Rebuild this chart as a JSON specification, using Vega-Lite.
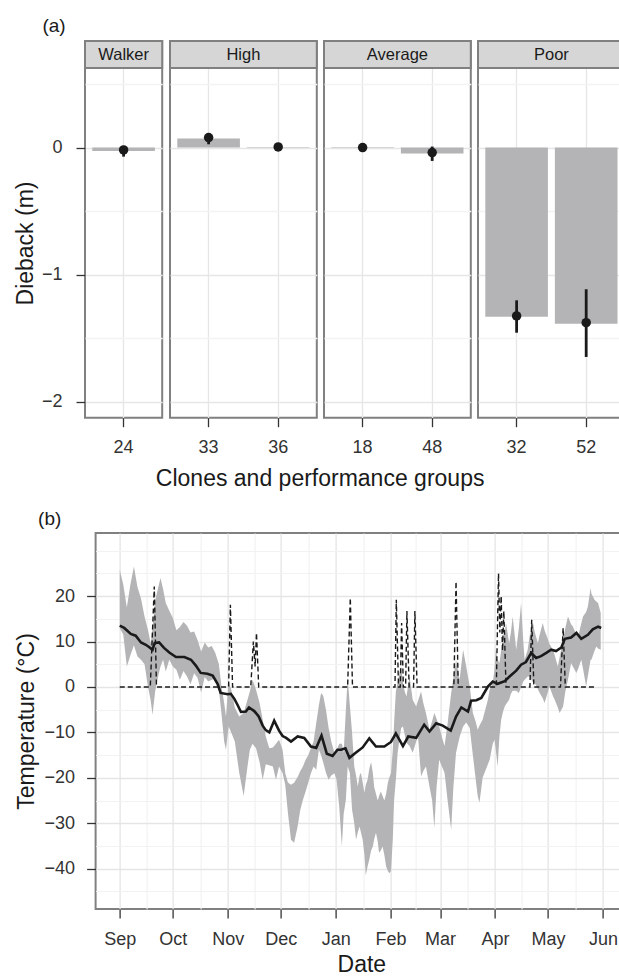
{
  "$schema": "https://vega.github.io/schema/vega-lite/v6.json",
  "background": "white",
  "padding": {"left": 13, "top": 17, "right": 0, "bottom": 4},
  "autosize": {"type": "pad"},
  "config": {
    "font": "Liberation Sans",
    "view": {"stroke": "#808080", "strokeWidth": 2},
    "axis": {"labelFontSize": 18, "labelColor": "#333333", "titleFontSize": 23, "titleFontWeight": "normal", "titleColor": "#1a1a1a", "tickColor": "#333333", "tickWidth": 1.3, "tickSize": 9, "domain": false, "labelFont": "Liberation Sans", "titleFont": "Liberation Sans", "labelOverlap": false},
    "title": {"fontSize": 19, "fontWeight": "normal", "color": "#1a1a1a", "font": "Liberation Sans"}
  },
  "datasets": {
    "dieback": [
      {"group": "Walker", "clone": "24", "bar": -0.026, "mean": -0.018, "lo": -0.071, "hi": 0.013},
      {"group": "High", "clone": "33", "bar": 0.071, "mean": 0.079, "lo": 0.026, "hi": 0.113},
      {"group": "High", "clone": "36", "bar": 0.005, "mean": 0.005, "lo": -0.005, "hi": 0.015},
      {"group": "Average", "clone": "18", "bar": -0.003, "mean": 0.0, "lo": -0.01, "hi": 0.01},
      {"group": "Average", "clone": "48", "bar": -0.047, "mean": -0.039, "lo": -0.105, "hi": 0.008},
      {"group": "Poor", "clone": "32", "bar": -1.331, "mean": -1.325, "lo": -1.457, "hi": -1.202},
      {"group": "Poor", "clone": "52", "bar": -1.386, "mean": -1.378, "lo": -1.648, "hi": -1.115}
    ],
    "band": [
      {"date": "2012-09-01T00:00", "hi": 25.8, "lo": 13},
      {"date": "2012-09-03T00:00", "hi": 22.5, "lo": 11.5},
      {"date": "2012-09-05T00:00", "hi": 17.5, "lo": 4.5},
      {"date": "2012-09-07T00:00", "hi": 22.5, "lo": 7},
      {"date": "2012-09-09T00:00", "hi": 26.5, "lo": 9.2},
      {"date": "2012-09-11T00:00", "hi": 22, "lo": 6.7},
      {"date": "2012-09-13T00:00", "hi": 19.5, "lo": 6},
      {"date": "2012-09-15T00:00", "hi": 15.5, "lo": 5},
      {"date": "2012-09-17T00:00", "hi": 12.5, "lo": 0},
      {"date": "2012-09-18T12:00", "hi": 9.5, "lo": -3},
      {"date": "2012-09-19T12:00", "hi": 13, "lo": -6.1},
      {"date": "2012-09-21T00:00", "hi": 19, "lo": -1},
      {"date": "2012-09-22T12:00", "hi": 21.5, "lo": 2},
      {"date": "2012-09-24T00:00", "hi": 24, "lo": 4.5},
      {"date": "2012-09-25T12:00", "hi": 21.5, "lo": 6},
      {"date": "2012-09-27T00:00", "hi": 18.5, "lo": 3.4},
      {"date": "2012-09-29T00:00", "hi": 16.8, "lo": 6},
      {"date": "2012-10-01T00:00", "hi": 15.2, "lo": 4.5},
      {"date": "2012-10-03T00:00", "hi": 12.5, "lo": 3.8},
      {"date": "2012-10-05T00:00", "hi": 13.2, "lo": 1.6},
      {"date": "2012-10-07T00:00", "hi": 14.3, "lo": 3.5},
      {"date": "2012-10-09T00:00", "hi": 13.5, "lo": 2.3},
      {"date": "2012-10-11T00:00", "hi": 12, "lo": 0.6},
      {"date": "2012-10-13T00:00", "hi": 12.2, "lo": 3},
      {"date": "2012-10-15T00:00", "hi": 10.3, "lo": 2},
      {"date": "2012-10-17T00:00", "hi": 7.8, "lo": -1.2},
      {"date": "2012-10-19T00:00", "hi": 9.8, "lo": 2.2},
      {"date": "2012-10-21T00:00", "hi": 8.7, "lo": 1.2},
      {"date": "2012-10-23T00:00", "hi": 9, "lo": 1.6},
      {"date": "2012-10-25T00:00", "hi": 7.5, "lo": 2},
      {"date": "2012-10-27T00:00", "hi": 5, "lo": -0.6},
      {"date": "2012-10-28T12:00", "hi": 0, "lo": -6},
      {"date": "2012-10-30T00:00", "hi": -3.5, "lo": -12},
      {"date": "2012-10-31T00:00", "hi": -6.5, "lo": -13.8},
      {"date": "2012-11-01T12:00", "hi": 1.2, "lo": -8.7},
      {"date": "2012-11-03T00:00", "hi": -0.6, "lo": -10},
      {"date": "2012-11-05T00:00", "hi": -4.5, "lo": -12},
      {"date": "2012-11-07T12:00", "hi": -6.5, "lo": -18.9},
      {"date": "2012-11-10T00:00", "hi": -5.7, "lo": -24},
      {"date": "2012-11-12T00:00", "hi": -3, "lo": -18},
      {"date": "2012-11-13T12:00", "hi": -1, "lo": -13.8},
      {"date": "2012-11-15T00:00", "hi": 1.6, "lo": -12.5},
      {"date": "2012-11-17T00:00", "hi": -0.6, "lo": -13.5},
      {"date": "2012-11-19T00:00", "hi": -3.5, "lo": -16.5},
      {"date": "2012-11-20T18:00", "hi": -7.2, "lo": -20.4},
      {"date": "2012-11-22T12:00", "hi": -10.9, "lo": -17},
      {"date": "2012-11-24T12:00", "hi": -13.5, "lo": -17.2},
      {"date": "2012-11-26T12:00", "hi": -13.3, "lo": -17.5},
      {"date": "2012-11-28T06:00", "hi": -12.5, "lo": -20.4},
      {"date": "2012-11-30T00:00", "hi": -11.6, "lo": -17.5},
      {"date": "2012-12-02T00:00", "hi": -13.8, "lo": -19},
      {"date": "2012-12-03T12:00", "hi": -19, "lo": -21.5},
      {"date": "2012-12-05T00:00", "hi": -21, "lo": -27.7},
      {"date": "2012-12-06T18:00", "hi": -21.5, "lo": -33.6},
      {"date": "2012-12-08T12:00", "hi": -21.1, "lo": -34.3},
      {"date": "2012-12-10T12:00", "hi": -19.8, "lo": -30.7},
      {"date": "2012-12-12T00:00", "hi": -18.5, "lo": -27},
      {"date": "2012-12-13T12:00", "hi": -17.5, "lo": -24.8},
      {"date": "2012-12-15T00:00", "hi": -16, "lo": -23},
      {"date": "2012-12-16T12:00", "hi": -15, "lo": -21.1},
      {"date": "2012-12-18T00:00", "hi": -13.5, "lo": -19},
      {"date": "2012-12-19T12:00", "hi": -12, "lo": -17.5},
      {"date": "2012-12-21T00:00", "hi": -8, "lo": -18.2},
      {"date": "2012-12-22T12:00", "hi": -4, "lo": -13.8},
      {"date": "2012-12-23T18:00", "hi": -1.3, "lo": -15},
      {"date": "2012-12-25T00:00", "hi": -2, "lo": -16.7},
      {"date": "2012-12-26T12:00", "hi": -5, "lo": -18.9},
      {"date": "2012-12-28T00:00", "hi": -9, "lo": -20.4},
      {"date": "2012-12-29T12:00", "hi": -12, "lo": -19.5},
      {"date": "2012-12-31T06:00", "hi": -14.5, "lo": -19},
      {"date": "2013-01-01T12:00", "hi": -14, "lo": -20.4},
      {"date": "2013-01-03T00:00", "hi": -12.5, "lo": -26.3},
      {"date": "2013-01-04T12:00", "hi": -12.5, "lo": -35.1},
      {"date": "2013-01-05T12:00", "hi": -14.5, "lo": -28},
      {"date": "2013-01-06T18:00", "hi": -5, "lo": -24.8},
      {"date": "2013-01-07T18:00", "hi": 2, "lo": -17.5},
      {"date": "2013-01-09T00:00", "hi": -4, "lo": -18.9},
      {"date": "2013-01-10T06:00", "hi": -10, "lo": -27},
      {"date": "2013-01-11T12:00", "hi": -17.5, "lo": -30},
      {"date": "2013-01-12T12:00", "hi": -19.5, "lo": -33.6},
      {"date": "2013-01-13T12:00", "hi": -21.9, "lo": -32},
      {"date": "2013-01-14T12:00", "hi": -19.5, "lo": -30.7},
      {"date": "2013-01-15T06:00", "hi": -18.9, "lo": -32},
      {"date": "2013-01-16T06:00", "hi": -21, "lo": -33.6},
      {"date": "2013-01-17T06:00", "hi": -23.3, "lo": -37},
      {"date": "2013-01-18T00:00", "hi": -21.5, "lo": -41.5},
      {"date": "2013-01-19T00:00", "hi": -20.4, "lo": -39.5},
      {"date": "2013-01-20T00:00", "hi": -18, "lo": -38},
      {"date": "2013-01-21T00:00", "hi": -16.5, "lo": -36},
      {"date": "2013-01-22T00:00", "hi": -19, "lo": -35.1},
      {"date": "2013-01-22T18:00", "hi": -22, "lo": -33.5},
      {"date": "2013-01-23T18:00", "hi": -23.5, "lo": -32.1},
      {"date": "2013-01-24T18:00", "hi": -25, "lo": -34},
      {"date": "2013-01-25T12:00", "hi": -24, "lo": -36.5},
      {"date": "2013-01-26T12:00", "hi": -23, "lo": -36},
      {"date": "2013-01-27T12:00", "hi": -24, "lo": -35.1},
      {"date": "2013-01-28T12:00", "hi": -25, "lo": -37},
      {"date": "2013-01-29T12:00", "hi": -23.5, "lo": -39.5},
      {"date": "2013-01-30T12:00", "hi": -21, "lo": -40.5},
      {"date": "2013-01-31T06:00", "hi": -20, "lo": -41},
      {"date": "2013-02-01T06:00", "hi": -19, "lo": -40.5},
      {"date": "2013-02-02T06:00", "hi": -13.8, "lo": -33.6},
      {"date": "2013-02-03T00:00", "hi": -8, "lo": -25},
      {"date": "2013-02-04T00:00", "hi": -1, "lo": -20.4},
      {"date": "2013-02-05T00:00", "hi": 1, "lo": -14.5},
      {"date": "2013-02-06T00:00", "hi": 3, "lo": -11.6},
      {"date": "2013-02-07T00:00", "hi": 4.5, "lo": -9},
      {"date": "2013-02-08T00:00", "hi": 1, "lo": -8.7},
      {"date": "2013-02-09T00:00", "hi": -1, "lo": -10.5},
      {"date": "2013-02-10T00:00", "hi": -2.1, "lo": -12.3},
      {"date": "2013-02-11T18:00", "hi": 2.3, "lo": -13},
      {"date": "2013-02-13T12:00", "hi": -2.8, "lo": -14.5},
      {"date": "2013-02-15T12:00", "hi": -4.3, "lo": -12},
      {"date": "2013-02-16T12:00", "hi": -3, "lo": -10.9},
      {"date": "2013-02-18T06:00", "hi": -1, "lo": -19.7},
      {"date": "2013-02-19T12:00", "hi": -3.5, "lo": -18.5},
      {"date": "2013-02-21T00:00", "hi": -5.7, "lo": -17.5},
      {"date": "2013-02-23T00:00", "hi": -9.4, "lo": -21.9},
      {"date": "2013-02-24T12:00", "hi": -7.5, "lo": -25},
      {"date": "2013-02-25T18:00", "hi": -5.7, "lo": -31},
      {"date": "2013-02-27T00:00", "hi": -7, "lo": -22},
      {"date": "2013-02-28T12:00", "hi": -8.7, "lo": -16},
      {"date": "2013-03-02T00:00", "hi": -11, "lo": -17.5},
      {"date": "2013-03-03T12:00", "hi": -13, "lo": -18.9},
      {"date": "2013-03-05T06:00", "hi": -8, "lo": -25},
      {"date": "2013-03-07T06:00", "hi": -1.3, "lo": -31.4},
      {"date": "2013-03-08T12:00", "hi": 2, "lo": -22},
      {"date": "2013-03-10T00:00", "hi": 6, "lo": -14.5},
      {"date": "2013-03-12T00:00", "hi": 1.6, "lo": -11},
      {"date": "2013-03-14T00:00", "hi": 8.2, "lo": -8.7},
      {"date": "2013-03-15T18:00", "hi": 4.5, "lo": -7.8},
      {"date": "2013-03-17T18:00", "hi": 0.1, "lo": -9},
      {"date": "2013-03-19T12:00", "hi": -5.7, "lo": -15},
      {"date": "2013-03-21T00:00", "hi": -7.5, "lo": -20},
      {"date": "2013-03-22T06:00", "hi": -9.4, "lo": -24},
      {"date": "2013-03-23T06:00", "hi": -8.5, "lo": -25.5},
      {"date": "2013-03-25T00:00", "hi": -7.2, "lo": -20},
      {"date": "2013-03-26T12:00", "hi": -5, "lo": -18.5},
      {"date": "2013-03-28T00:00", "hi": -2.8, "lo": -17},
      {"date": "2013-03-29T00:00", "hi": -0.5, "lo": -16},
      {"date": "2013-03-30T18:00", "hi": 0.9, "lo": -12.5},
      {"date": "2013-03-31T18:00", "hi": 4, "lo": -11.6},
      {"date": "2013-04-01T12:00", "hi": 8.2, "lo": -14},
      {"date": "2013-04-02T12:00", "hi": 6, "lo": -17.5},
      {"date": "2013-04-03T12:00", "hi": 5.3, "lo": -11},
      {"date": "2013-04-04T12:00", "hi": 8, "lo": -7.2},
      {"date": "2013-04-05T12:00", "hi": 10.4, "lo": -5.5},
      {"date": "2013-04-06T12:00", "hi": 12, "lo": -4.3},
      {"date": "2013-04-07T06:00", "hi": 14.1, "lo": -3.8},
      {"date": "2013-04-09T00:00", "hi": 9.7, "lo": -2.8},
      {"date": "2013-04-10T00:00", "hi": 12, "lo": -1.5},
      {"date": "2013-04-11T00:00", "hi": 15.5, "lo": -0.8},
      {"date": "2013-04-13T00:00", "hi": 8.2, "lo": -0.8},
      {"date": "2013-04-14T12:00", "hi": 13, "lo": -1.3},
      {"date": "2013-04-15T18:00", "hi": 18.5, "lo": 0},
      {"date": "2013-04-17T00:00", "hi": 10, "lo": 1.2},
      {"date": "2013-04-17T18:00", "hi": 6, "lo": 1.6},
      {"date": "2013-04-19T12:00", "hi": 8.2, "lo": 2.3},
      {"date": "2013-04-20T12:00", "hi": 11, "lo": 2.3},
      {"date": "2013-04-22T12:00", "hi": 14.1, "lo": 1},
      {"date": "2013-04-23T12:00", "hi": 12, "lo": 0.9},
      {"date": "2013-04-25T06:00", "hi": 9.7, "lo": -0.5},
      {"date": "2013-04-26T06:00", "hi": 11.5, "lo": -1.3},
      {"date": "2013-04-28T00:00", "hi": 14.1, "lo": -2.5},
      {"date": "2013-04-29T00:00", "hi": 12.5, "lo": -3.5},
      {"date": "2013-05-01T00:00", "hi": 10.4, "lo": -1},
      {"date": "2013-05-01T18:00", "hi": 9.5, "lo": 0.1},
      {"date": "2013-05-03T18:00", "hi": 8.2, "lo": -2},
      {"date": "2013-05-04T18:00", "hi": 7, "lo": -2.8},
      {"date": "2013-05-06T12:00", "hi": 4.5, "lo": -4.5},
      {"date": "2013-05-07T12:00", "hi": 6.5, "lo": -5.7},
      {"date": "2013-05-09T12:00", "hi": 10.4, "lo": -4.3},
      {"date": "2013-05-10T18:00", "hi": 13, "lo": -1},
      {"date": "2013-05-12T06:00", "hi": 15.5, "lo": 1.6},
      {"date": "2013-05-14T00:00", "hi": 13.8, "lo": 5.3},
      {"date": "2013-05-15T00:00", "hi": 13.3, "lo": 4.5},
      {"date": "2013-05-17T00:00", "hi": 11.5, "lo": 3.1},
      {"date": "2013-05-18T00:00", "hi": 11.1, "lo": 4},
      {"date": "2013-05-19T18:00", "hi": 14, "lo": 6},
      {"date": "2013-05-20T18:00", "hi": 15.5, "lo": 4},
      {"date": "2013-05-22T12:00", "hi": 16.5, "lo": 0.1},
      {"date": "2013-05-23T12:00", "hi": 17.7, "lo": 2.5},
      {"date": "2013-05-25T00:00", "hi": 21.8, "lo": 6},
      {"date": "2013-05-25T12:00", "hi": 20.5, "lo": 6},
      {"date": "2013-05-27T06:00", "hi": 19.2, "lo": 8},
      {"date": "2013-05-28T06:00", "hi": 18.8, "lo": 8.9},
      {"date": "2013-05-29T06:00", "hi": 18.5, "lo": 8.5},
      {"date": "2013-05-30T18:00", "hi": 16.3, "lo": 8.2}
    ],
    "mean": [
      {"date": "2012-09-01T00:00", "temp": 13.5},
      {"date": "2012-09-03T12:00", "temp": 13.0},
      {"date": "2012-09-07T06:00", "temp": 11.7},
      {"date": "2012-09-10T00:00", "temp": 11.3},
      {"date": "2012-09-13T00:00", "temp": 9.8},
      {"date": "2012-09-15T18:00", "temp": 9.3},
      {"date": "2012-09-17T12:00", "temp": 8.8},
      {"date": "2012-09-19T12:00", "temp": 8.2},
      {"date": "2012-09-20T18:00", "temp": 9.7},
      {"date": "2012-09-23T06:00", "temp": 9.8},
      {"date": "2012-09-26T00:00", "temp": 8.6},
      {"date": "2012-09-29T00:00", "temp": 7.6},
      {"date": "2012-10-02T18:00", "temp": 6.6},
      {"date": "2012-10-07T12:00", "temp": 6.6},
      {"date": "2012-10-11T06:00", "temp": 6.0},
      {"date": "2012-10-14T00:00", "temp": 4.7},
      {"date": "2012-10-16T18:00", "temp": 3.1},
      {"date": "2012-10-20T12:00", "temp": 2.9},
      {"date": "2012-10-23T12:00", "temp": 2.5},
      {"date": "2012-10-26T06:00", "temp": 0.7},
      {"date": "2012-10-28T00:00", "temp": -1.3},
      {"date": "2012-11-01T00:00", "temp": -1.6},
      {"date": "2012-11-02T18:00", "temp": -1.5},
      {"date": "2012-11-04T18:00", "temp": -2.6},
      {"date": "2012-11-06T12:00", "temp": -3.9},
      {"date": "2012-11-08T12:00", "temp": -5.5},
      {"date": "2012-11-11T06:00", "temp": -5.4},
      {"date": "2012-11-13T00:00", "temp": -4.5},
      {"date": "2012-11-16T00:00", "temp": -5.3},
      {"date": "2012-11-18T12:00", "temp": -6.5},
      {"date": "2012-11-20T18:00", "temp": -8.5},
      {"date": "2012-11-22T12:00", "temp": -9.5},
      {"date": "2012-11-24T12:00", "temp": -10.0},
      {"date": "2012-11-27T06:00", "temp": -7.4},
      {"date": "2012-11-30T00:00", "temp": -9.6},
      {"date": "2012-12-02T00:00", "temp": -10.8},
      {"date": "2012-12-04T00:00", "temp": -11.2},
      {"date": "2012-12-06T18:00", "temp": -12.0},
      {"date": "2012-12-10T12:00", "temp": -10.9},
      {"date": "2012-12-14T06:00", "temp": -11.2},
      {"date": "2012-12-18T00:00", "temp": -13.1},
      {"date": "2012-12-21T00:00", "temp": -13.4},
      {"date": "2012-12-24T00:00", "temp": -10.7},
      {"date": "2012-12-27T00:00", "temp": -14.7},
      {"date": "2012-12-30T06:00", "temp": -15.2},
      {"date": "2013-01-02T00:00", "temp": -13.8},
      {"date": "2013-01-04T00:00", "temp": -13.8},
      {"date": "2013-01-06T12:00", "temp": -13.5},
      {"date": "2013-01-08T18:00", "temp": -15.6},
      {"date": "2013-01-12T12:00", "temp": -14.4},
      {"date": "2013-01-16T06:00", "temp": -13.3},
      {"date": "2013-01-20T00:00", "temp": -11.3},
      {"date": "2013-01-23T18:00", "temp": -13.1},
      {"date": "2013-01-28T12:00", "temp": -13.1},
      {"date": "2013-02-01T06:00", "temp": -12.1},
      {"date": "2013-02-04T00:00", "temp": -10.2},
      {"date": "2013-02-08T00:00", "temp": -13.0},
      {"date": "2013-02-11T00:00", "temp": -10.9},
      {"date": "2013-02-15T12:00", "temp": -11.2},
      {"date": "2013-02-20T00:00", "temp": -8.3},
      {"date": "2013-02-23T00:00", "temp": -9.8},
      {"date": "2013-02-26T18:00", "temp": -8.0},
      {"date": "2013-03-02T12:00", "temp": -8.5},
      {"date": "2013-03-07T00:00", "temp": -9.6},
      {"date": "2013-03-10T00:00", "temp": -6.5},
      {"date": "2013-03-13T00:00", "temp": -4.5},
      {"date": "2013-03-16T18:00", "temp": -5.4},
      {"date": "2013-03-18T12:00", "temp": -3.0},
      {"date": "2013-03-21T12:00", "temp": -2.9},
      {"date": "2013-03-24T06:00", "temp": -2.4},
      {"date": "2013-03-28T00:00", "temp": 0.1},
      {"date": "2013-03-30T18:00", "temp": 1.2},
      {"date": "2013-04-02T12:00", "temp": 0.7},
      {"date": "2013-04-06T12:00", "temp": 1.3},
      {"date": "2013-04-09T06:00", "temp": 2.3},
      {"date": "2013-04-13T00:00", "temp": 3.6},
      {"date": "2013-04-15T18:00", "temp": 4.9},
      {"date": "2013-04-18T12:00", "temp": 5.5},
      {"date": "2013-04-21T12:00", "temp": 7.5},
      {"date": "2013-04-24T06:00", "temp": 6.4},
      {"date": "2013-04-27T00:00", "temp": 6.8},
      {"date": "2013-04-30T00:00", "temp": 7.5},
      {"date": "2013-05-02T18:00", "temp": 8.2},
      {"date": "2013-05-05T12:00", "temp": 7.9},
      {"date": "2013-05-08T12:00", "temp": 8.7},
      {"date": "2013-05-10T12:00", "temp": 10.6},
      {"date": "2013-05-14T00:00", "temp": 10.9},
      {"date": "2013-05-17T00:00", "temp": 11.9},
      {"date": "2013-05-19T18:00", "temp": 10.6},
      {"date": "2013-05-23T12:00", "temp": 11.5},
      {"date": "2013-05-26T06:00", "temp": 12.7},
      {"date": "2013-05-29T06:00", "temp": 13.3},
      {"date": "2013-05-31T00:00", "temp": 13.0}
    ],
    "warm": [
      {"date": "2012-09-01T00:00", "temp": 0},
      {"date": "2012-09-18T06:00", "temp": 0},
      {"date": "2012-09-20T12:00", "temp": 22.1},
      {"date": "2012-09-21T18:00", "temp": 0},
      {"date": "2012-11-01T12:00", "temp": 0},
      {"date": "2012-11-02T12:00", "temp": 18.1},
      {"date": "2012-11-03T18:00", "temp": 0},
      {"date": "2012-11-14T00:00", "temp": 0},
      {"date": "2012-11-15T12:00", "temp": 10},
      {"date": "2012-11-16T12:00", "temp": 4.5},
      {"date": "2012-11-17T06:00", "temp": 11.9},
      {"date": "2012-11-18T12:00", "temp": 0},
      {"date": "2013-01-07T18:00", "temp": 0},
      {"date": "2013-01-09T06:00", "temp": 19.6},
      {"date": "2013-01-10T12:00", "temp": 0},
      {"date": "2013-02-03T12:00", "temp": 0},
      {"date": "2013-02-04T06:00", "temp": 19.2},
      {"date": "2013-02-05T12:00", "temp": 0},
      {"date": "2013-02-06T12:00", "temp": 0},
      {"date": "2013-02-07T06:00", "temp": 14.1},
      {"date": "2013-02-08T06:00", "temp": 0},
      {"date": "2013-02-09T12:00", "temp": 0},
      {"date": "2013-02-10T06:00", "temp": 16.7},
      {"date": "2013-02-11T12:00", "temp": 0},
      {"date": "2013-02-14T00:00", "temp": 0},
      {"date": "2013-02-14T18:00", "temp": 16.7},
      {"date": "2013-02-16T00:00", "temp": 0},
      {"date": "2013-03-08T18:00", "temp": 0},
      {"date": "2013-03-10T00:00", "temp": 23.2},
      {"date": "2013-03-11T06:00", "temp": 0},
      {"date": "2013-04-01T18:00", "temp": 0},
      {"date": "2013-04-03T00:00", "temp": 25},
      {"date": "2013-04-03T18:00", "temp": 12},
      {"date": "2013-04-04T12:00", "temp": 20},
      {"date": "2013-04-05T06:00", "temp": 8},
      {"date": "2013-04-06T00:00", "temp": 16.7},
      {"date": "2013-04-07T06:00", "temp": 0},
      {"date": "2013-04-20T18:00", "temp": 0},
      {"date": "2013-04-21T18:00", "temp": 14.8},
      {"date": "2013-04-23T00:00", "temp": 0},
      {"date": "2013-05-08T00:00", "temp": 0},
      {"date": "2013-05-09T12:00", "temp": 13},
      {"date": "2013-05-10T18:00", "temp": 0},
      {"date": "2013-05-28T06:00", "temp": 0}
    ]
  },
  "concat": [
    {
      "title": {"text": "(a)", "anchor": "start", "frame": "bounds", "dx": 29, "offset": 3, "fontSize": 19},
      "vconcat": [
        {
          "data": {"name": "dieback"},
          "title": {"text": "Clones and performance groups", "orient": "bottom", "anchor": "middle", "frame": "bounds", "fontSize": 23, "offset": 10},
          "spacing": 7,
          "bounds": "flush",
          "hconcat": [
            {
              "width": 77.2, "height": 376.7,
              "transform": [{"filter": "datum.group === 'Walker'"}],
              "layer": [
                {"mark": {"type": "bar", "color": "#b4b4b6"},
                 "encoding": {
                   "x": {"field": "clone", "type": "nominal", "title": null, "scale": {"paddingInner": 0.1, "paddingOuter": 0.105},
                     "axis": {"labelAngle": 0, "grid": true, "gridColor": "#e6e6e6", "gridWidth": 1.3, "bandPosition": 0.5, "labelPadding": 12}},
                   "y": {"field": "bar", "type": "quantitative", "stack": null, "title": "Dieback (m)",
                     "scale": {"domain": [-2.126, 0.839], "nice": false, "zero": false},
                     "axis": {"values": [-2, -1.5, -1, -0.5, 0, 0.5], "labelExpr": "datum.value % 1 === 0 ? format(datum.value, 'd') : ''", "grid": true,
                       "gridColor": {"condition": {"test": "datum.value % 1 !== 0", "value": "#f3f3f3"}, "value": "#e6e6e6"}, "gridWidth": 1.3,
                       "tickOpacity": {"condition": {"test": "datum.value % 1 !== 0", "value": 0}, "value": 1},
                       "labelPadding": 14, "titlePadding": 4, "titleY": 202, "labelOverlap": false}}}},
                {"mark": {"type": "rule", "color": "#1a1a1a", "strokeWidth": 2.8},
                 "encoding": {"x": {"field": "clone", "type": "nominal", "title": null}, "y": {"field": "lo", "type": "quantitative", "title": "Dieback (m)"}, "y2": {"field": "hi"}}},
                {"mark": {"type": "point", "filled": true, "color": "#1a1a1a", "opacity": 1, "size": 90},
                 "encoding": {"x": {"field": "clone", "type": "nominal", "title": null}, "y": {"field": "mean", "type": "quantitative", "title": "Dieback (m)"}}},
                {"transform": [{"aggregate": [{"op": "count", "as": "n"}], "groupby": ["group"]}],
                 "mark": {"type": "rect", "fill": "#d6d6d6", "stroke": "#808080", "strokeWidth": 2},
                 "encoding": {"y": {"datum": 0.626, "type": "quantitative", "title": "Dieback (m)"}, "y2": {"datum": 0.839}}},
                {"transform": [{"aggregate": [{"op": "count", "as": "n"}], "groupby": ["group"]}],
                 "mark": {"type": "text", "fontSize": 16.5, "color": "#1a1a1a", "baseline": "middle", "align": "center", "font": "Liberation Sans"},
                 "encoding": {"y": {"datum": 0.7325, "type": "quantitative", "title": "Dieback (m)"}, "text": {"field": "group"}}}
              ]
            },
            {
              "width": 146.8, "height": 376.7,
              "transform": [{"filter": "datum.group === 'High'"}],
              "layer": [
                {"mark": {"type": "bar", "color": "#b4b4b6"},
                 "encoding": {
                   "x": {"field": "clone", "type": "nominal", "title": null, "scale": {"paddingInner": 0.1, "paddingOuter": 0.105},
                     "axis": {"labelAngle": 0, "grid": true, "gridColor": "#e6e6e6", "gridWidth": 1.3, "bandPosition": 0.5, "labelPadding": 12}},
                   "y": {"field": "bar", "type": "quantitative", "stack": null, "title": null,
                     "scale": {"domain": [-2.126, 0.839], "nice": false, "zero": false},
                     "axis": {"values": [-2, -1.5, -1, -0.5, 0, 0.5], "labels": false, "ticks": false, "title": null, "grid": true,
                       "gridColor": {"condition": {"test": "datum.value % 1 !== 0", "value": "#f3f3f3"}, "value": "#e6e6e6"}, "gridWidth": 1.3}}}},
                {"mark": {"type": "rule", "color": "#1a1a1a", "strokeWidth": 2.8},
                 "encoding": {"x": {"field": "clone", "type": "nominal", "title": null}, "y": {"field": "lo", "type": "quantitative", "title": null}, "y2": {"field": "hi"}}},
                {"mark": {"type": "point", "filled": true, "color": "#1a1a1a", "opacity": 1, "size": 90},
                 "encoding": {"x": {"field": "clone", "type": "nominal", "title": null}, "y": {"field": "mean", "type": "quantitative", "title": null}}},
                {"transform": [{"aggregate": [{"op": "count", "as": "n"}], "groupby": ["group"]}],
                 "mark": {"type": "rect", "fill": "#d6d6d6", "stroke": "#808080", "strokeWidth": 2},
                 "encoding": {"y": {"datum": 0.626, "type": "quantitative", "title": null}, "y2": {"datum": 0.839}}},
                {"transform": [{"aggregate": [{"op": "count", "as": "n"}], "groupby": ["group"]}],
                 "mark": {"type": "text", "fontSize": 16.5, "color": "#1a1a1a", "baseline": "middle", "align": "center", "font": "Liberation Sans"},
                 "encoding": {"y": {"datum": 0.7325, "type": "quantitative", "title": null}, "text": {"field": "group"}}}
              ]
            },
            {
              "width": 146.8, "height": 376.7,
              "transform": [{"filter": "datum.group === 'Average'"}],
              "layer": [
                {"mark": {"type": "bar", "color": "#b4b4b6"},
                 "encoding": {
                   "x": {"field": "clone", "type": "nominal", "title": null, "scale": {"paddingInner": 0.1, "paddingOuter": 0.105},
                     "axis": {"labelAngle": 0, "grid": true, "gridColor": "#e6e6e6", "gridWidth": 1.3, "bandPosition": 0.5, "labelPadding": 12}},
                   "y": {"field": "bar", "type": "quantitative", "stack": null, "title": null,
                     "scale": {"domain": [-2.126, 0.839], "nice": false, "zero": false},
                     "axis": {"values": [-2, -1.5, -1, -0.5, 0, 0.5], "labels": false, "ticks": false, "title": null, "grid": true,
                       "gridColor": {"condition": {"test": "datum.value % 1 !== 0", "value": "#f3f3f3"}, "value": "#e6e6e6"}, "gridWidth": 1.3}}}},
                {"mark": {"type": "rule", "color": "#1a1a1a", "strokeWidth": 2.8},
                 "encoding": {"x": {"field": "clone", "type": "nominal", "title": null}, "y": {"field": "lo", "type": "quantitative", "title": null}, "y2": {"field": "hi"}}},
                {"mark": {"type": "point", "filled": true, "color": "#1a1a1a", "opacity": 1, "size": 90},
                 "encoding": {"x": {"field": "clone", "type": "nominal", "title": null}, "y": {"field": "mean", "type": "quantitative", "title": null}}},
                {"transform": [{"aggregate": [{"op": "count", "as": "n"}], "groupby": ["group"]}],
                 "mark": {"type": "rect", "fill": "#d6d6d6", "stroke": "#808080", "strokeWidth": 2},
                 "encoding": {"y": {"datum": 0.626, "type": "quantitative", "title": null}, "y2": {"datum": 0.839}}},
                {"transform": [{"aggregate": [{"op": "count", "as": "n"}], "groupby": ["group"]}],
                 "mark": {"type": "text", "fontSize": 16.5, "color": "#1a1a1a", "baseline": "middle", "align": "center", "font": "Liberation Sans"},
                 "encoding": {"y": {"datum": 0.7325, "type": "quantitative", "title": null}, "text": {"field": "group"}}}
              ]
            },
            {
              "width": 146.8, "height": 376.7,
              "transform": [{"filter": "datum.group === 'Poor'"}],
              "layer": [
                {"mark": {"type": "bar", "color": "#b4b4b6"},
                 "encoding": {
                   "x": {"field": "clone", "type": "nominal", "title": null, "scale": {"paddingInner": 0.1, "paddingOuter": 0.105},
                     "axis": {"labelAngle": 0, "grid": true, "gridColor": "#e6e6e6", "gridWidth": 1.3, "bandPosition": 0.5, "labelPadding": 12}},
                   "y": {"field": "bar", "type": "quantitative", "stack": null, "title": null,
                     "scale": {"domain": [-2.126, 0.839], "nice": false, "zero": false},
                     "axis": {"values": [-2, -1.5, -1, -0.5, 0, 0.5], "labels": false, "ticks": false, "title": null, "grid": true,
                       "gridColor": {"condition": {"test": "datum.value % 1 !== 0", "value": "#f3f3f3"}, "value": "#e6e6e6"}, "gridWidth": 1.3}}}},
                {"mark": {"type": "rule", "color": "#1a1a1a", "strokeWidth": 2.8},
                 "encoding": {"x": {"field": "clone", "type": "nominal", "title": null}, "y": {"field": "lo", "type": "quantitative", "title": null}, "y2": {"field": "hi"}}},
                {"mark": {"type": "point", "filled": true, "color": "#1a1a1a", "opacity": 1, "size": 90},
                 "encoding": {"x": {"field": "clone", "type": "nominal", "title": null}, "y": {"field": "mean", "type": "quantitative", "title": null}}},
                {"transform": [{"aggregate": [{"op": "count", "as": "n"}], "groupby": ["group"]}],
                 "mark": {"type": "rect", "fill": "#d6d6d6", "stroke": "#808080", "strokeWidth": 2},
                 "encoding": {"y": {"datum": 0.626, "type": "quantitative", "title": null}, "y2": {"datum": 0.839}}},
                {"transform": [{"aggregate": [{"op": "count", "as": "n"}], "groupby": ["group"]}],
                 "mark": {"type": "text", "fontSize": 16.5, "color": "#1a1a1a", "baseline": "middle", "align": "center", "font": "Liberation Sans"},
                 "encoding": {"y": {"datum": 0.7325, "type": "quantitative", "title": null}, "text": {"field": "group"}}}
              ]
            }
          ]
        }
      ]
    },
    {
      "title": {"text": "(b)", "anchor": "start", "frame": "bounds", "dx": 24, "offset": 3, "fontSize": 19},
      "spacing": 9.6,
      "bounds": "flush",
      "hconcat": [
        {
          "width": 1,
          "height": 1,
          "view": {"stroke": null},
          "data": {"name": "mean"},
          "mark": {"type": "point", "opacity": 0, "size": 0},
          "encoding": {}
        },
        {
          "width": 531.5,
          "height": 376,
          "resolve": {"axis": {"x": "independent", "y": "independent"}},
          "layer": [
            {
              "data": {"name": "band"},
              "mark": {"type": "area", "color": "#b4b4b6", "opacity": 1},
              "encoding": {
                "x": {"field": "date", "type": "temporal", "title": "Date",
                  "scale": {"domain": [{"year": 2012, "month": 8, "date": 18, "hours": 8, "minutes": 24}, {"year": 2013, "month": 6, "date": 14, "hours": 15, "minutes": 36}]},
                  "axis": {
                    "orient": "bottom",
                    "values": [
                      {"year": 2012, "month": 9, "date": 1}, {"year": 2012, "month": 10, "date": 1},
                      {"year": 2012, "month": 11, "date": 1}, {"year": 2012, "month": 12, "date": 1},
                      {"year": 2013, "month": 1, "date": 1}, {"year": 2013, "month": 2, "date": 1},
                      {"year": 2013, "month": 3, "date": 1}, {"year": 2013, "month": 4, "date": 1},
                      {"year": 2013, "month": 5, "date": 1}, {"year": 2013, "month": 6, "date": 1}
                    ],
                    "format": "%b",
                    "grid": true, "gridColor": "#e5e5e5", "gridWidth": 1.3,
                    "labelPadding": 12, "titlePadding": 5, "labelFlush": false, "labelOverlap": false
                  }
                },
                "y": {"field": "hi", "type": "quantitative", "title": "Temperature (°C)",
                  "scale": {"domain": [-48.87, 33.9], "nice": false, "zero": false},
                  "axis": {
                    "orient": "left",
                    "values": [-40, -30, -20, -10, 0, 10, 20],
                    "format": "d",
                    "grid": true, "gridColor": "#e5e5e5", "gridWidth": 1.3,
                    "labelPadding": 12, "titlePadding": 6, "labelOverlap": false
                  }
                },
                "y2": {"field": "lo"}
              }
            },
            {
              "data": {"name": "warm"},
              "mark": {"type": "line", "color": "#1a1a1a", "strokeWidth": 1.4, "strokeDash": [5, 3]},
              "encoding": {
                "x": {"field": "date", "type": "temporal", "title": null,
                  "axis": {
                    "orient": "top",
                    "values": [
                      {"year": 2012, "month": 9, "date": 16}, {"year": 2012, "month": 10, "date": 16, "hours": 12},
                      {"year": 2012, "month": 11, "date": 16}, {"year": 2012, "month": 12, "date": 16, "hours": 12},
                      {"year": 2013, "month": 1, "date": 16, "hours": 12}, {"year": 2013, "month": 2, "date": 15},
                      {"year": 2013, "month": 3, "date": 16, "hours": 12}, {"year": 2013, "month": 4, "date": 16},
                      {"year": 2013, "month": 5, "date": 16, "hours": 12}
                    ],
                    "labels": false, "ticks": false, "domain": false, "title": null,
                    "grid": true, "gridColor": "#f2f2f2", "gridWidth": 1.1
                  }
                },
                "y": {"field": "temp", "type": "quantitative", "title": null,
                  "axis": {
                    "orient": "right",
                    "values": [-45, -35, -25, -15, -5, 5, 15, 25, 30],
                    "labels": false, "ticks": false, "domain": false, "title": null,
                    "grid": true, "gridColor": "#f2f2f2", "gridWidth": 1.1
                  }
                }
              }
            },
            {
              "data": {"name": "mean"},
              "mark": {"type": "line", "color": "#1a1a1a", "strokeWidth": 2.6},
              "encoding": {
                "x": {"field": "date", "type": "temporal", "axis": null},
                "y": {"field": "temp", "type": "quantitative", "axis": null}
              }
            }
          ]
        }
      ]
    }
  ],
  "columns": 1,
  "align": "none",
  "spacing": 19
}
